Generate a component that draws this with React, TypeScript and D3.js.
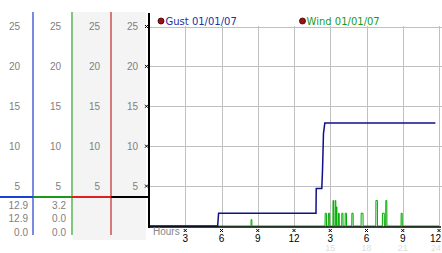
import React from "react";
import * as d3 from "d3";

const yTicks = [5, 10, 15, 20, 25];
const xTickHours = [3, 6, 9, 12, 15, 18, 21, 24];
const xTickLabels = ["3", "6", "9", "12", "3", "6", "9", "12"];
const xFaintLabels = ["", "", "", "", "15", "18", "21", "24"];

const gustName = "Gust 01/01/07";
const windName = "Wind 01/01/07";

// gust: [hour, value]
const gustPoints: [number, number][] = [
  [0, 0], [5.68, 0], [5.76, 1.6], [13.82, 1.6], [13.84, 4.7],
  [14.3, 4.7], [14.36, 7.0], [14.44, 11.6], [14.55, 12.9], [23.7, 12.9],
];

// wind spikes: [start hour, end hour, value]
const windSpikes: [number, number, number][] = [
  [8.44, 8.52, 0.8],
  [14.57, 14.69, 1.6],
  [14.84, 14.96, 1.6],
  [15.22, 15.29, 3.2],
  [15.4, 15.47, 3.2],
  [15.5, 15.56, 2.4],
  [15.67, 15.75, 1.6],
  [15.95, 16.06, 1.6],
  [16.23, 16.35, 1.6],
  [16.78, 16.9, 1.6],
  [17.55, 17.72, 1.6],
  [18.77, 18.91, 3.2],
  [19.31, 19.48, 1.6],
  [19.59, 19.69, 3.2],
  [20.86, 20.96, 1.6],
];
const windEnd = 24;

const colLines = [33, 72, 111];
const colColors = ["#1f3fc8", "#2ca02c", "#c02828"];
const segColors = ["#1a40d8", "#1a9a1a", "#e02020", "#000000"];
const labelRight = [20, 61, 100, 138];
const statsCol1 = ["12.9", "12.9", "0.0"];
const statsCol2 = ["3.2", "0.0", "0.0"];

const FONT = "'Liberation Sans', Arial, sans-serif";

function Marker({ x, y }: { x: number; y: number }) {
  return (
    <path
      d={`M${x - 1.5},${y - 1.5}L${x + 1.5},${y + 1.5}M${x + 1.5},${y - 1.5}L${x - 1.5},${y + 1.5}`}
      stroke="#000"
      strokeWidth={1}
      fill="none"
    />
  );
}

export default function App() {
  const x = d3.scaleLinear().domain([0, 24]).range([149, 439]);
  const y = d3.scaleLinear().domain([0, 25]).range([226, 26.5]);

  const line = d3
    .line<[number, number]>()
    .x((d) => x(d[0]))
    .y((d) => y(d[1]));

  const windPts: [number, number][] = [[0, 0]];
  windSpikes.forEach(([a, b, v]) => {
    windPts.push([a, 0], [a + 0.01, v], [b - 0.01, v], [b, 0]);
  });
  windPts.push([windEnd, 0]);

  const last = xTickHours.length - 1;

  return (
    <svg
      width={442}
      height={253}
      style={{ position: "absolute", left: 0, top: 0, background: "#fff" }}
    >
      {/* gray columns */}
      <rect x={73} y={12} width={73} height={228} fill="#f4f4f4" />

      {/* column lines */}
      {colLines.map((cx, i) => (
        <line key={i} x1={cx} x2={cx} y1={12} y2={235} stroke={colColors[i]} strokeWidth={1.2} />
      ))}

      {/* column tick labels */}
      {labelRight.map((rx, ci) =>
        yTicks.map((t) => (
          <text
            key={`${ci}-${t}`}
            x={rx}
            y={y(t)}
            dy="0.36em"
            textAnchor="end"
            fontFamily={FONT}
            fontSize={10}
            fill="#808080"
          >
            {t}
          </text>
        ))
      )}

      {/* horizontal colored segment */}
      {[0, 33, 72, 111].map((sx, i) => (
        <line
          key={i}
          x1={sx}
          x2={[33, 72, 111, 149][i]}
          y1={197}
          y2={197}
          stroke={segColors[i]}
          strokeWidth={2}
        />
      ))}

      {statsCol1.map((s, i) => (
        <text key={`a${i}`} x={28} y={205 + i * 13.6} dy="0.36em" textAnchor="end" fontFamily={FONT} fontSize={10} fill="#808080">
          {s}
        </text>
      ))}
      {statsCol2.map((s, i) => (
        <text key={`b${i}`} x={66} y={205 + i * 13.6} dy="0.36em" textAnchor="end" fontFamily={FONT} fontSize={10} fill="#808080">
          {s}
        </text>
      ))}

      {/* grid */}
      {yTicks.map((t) => (
        <line key={`gy${t}`} x1={149} x2={442} y1={Math.round(y(t)) + 0.5} y2={Math.round(y(t)) + 0.5} stroke="#c0c0c0" strokeWidth={1} />
      ))}
      {xTickHours.map((h) => (
        <line key={`gx${h}`} x1={Math.round(x(h)) + 0.5} x2={Math.round(x(h)) + 0.5} y1={26} y2={226} stroke="#c0c0c0" strokeWidth={1} />
      ))}

      {/* series */}
      <path d={line(windPts) || ""} fill="none" stroke="#00aa00" strokeWidth={1} />
      <path d={line(gustPoints) || ""} fill="none" stroke="#101088" strokeWidth={1.5} />

      {/* axes */}
      <line x1={149} x2={149} y1={13} y2={228} stroke="#000" strokeWidth={2} />
      <line x1={148} x2={441} y1={227} y2={227} stroke="#000" strokeWidth={1.5} />

      {yTicks.map((t) => (
        <Marker key={`my${t}`} x={146.5} y={y(t)} />
      ))}
      {xTickHours.map((h) => (
        <Marker key={`mx${h}`} x={x(h)} y={230.5} />
      ))}

      <text x={153} y={231.5} dy="0.36em" fontFamily={FONT} fontSize={10} fill="#888">
        Hours
      </text>
      {xTickHours.map((h, i) => (
        <text
          key={`xl${h}`}
          x={i === last ? 441 : x(h)}
          y={238}
          dy="0.36em"
          textAnchor={i === last ? "end" : "middle"}
          fontFamily={FONT}
          fontSize={10}
          fill="#000"
        >
          {xTickLabels[i]}
        </text>
      ))}
      {xTickHours.map((h, i) => (
        <text
          key={`xf${h}`}
          x={i === last ? 441 : x(h)}
          y={247.5}
          dy="0.36em"
          textAnchor={i === last ? "end" : "middle"}
          fontFamily={FONT}
          fontSize={9}
          fill="#dedede"
        >
          {xFaintLabels[i]}
        </text>
      ))}

      {/* legend */}
      <circle cx={161} cy={21} r={3} fill="#a01010" stroke="#300" strokeWidth={0.8} />
      <text x={165.5} y={21} dy="0.36em" fontFamily="'DejaVu Sans', sans-serif" fontSize={10} fill="#2030a8">
        {gustName}
      </text>
      <circle cx={302.5} cy={21} r={3} fill="#a01010" stroke="#300" strokeWidth={0.8} />
      <text x={306.5} y={21} dy="0.36em" fontFamily="'DejaVu Sans', sans-serif" fontSize={10} fill="#1a9a1a">
        {windName}
      </text>
    </svg>
  );
}
